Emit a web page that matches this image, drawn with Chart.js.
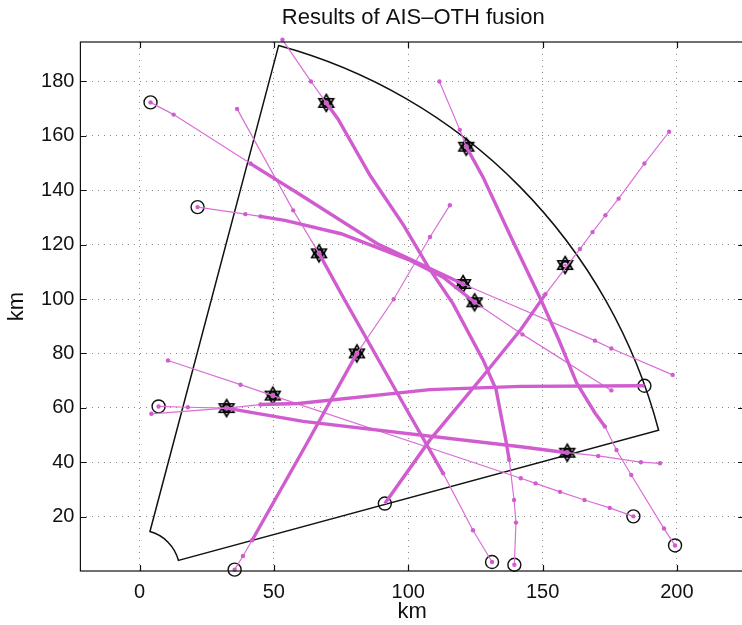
<!DOCTYPE html>
<html>
<head>
<meta charset="utf-8">
<title>Results of AIS–OTH fusion</title>
<script src="https://cdn.jsdelivr.net/npm/chart.js@4.4.1/dist/chart.umd.min.js"></script>
<style>
  html, body { margin: 0; padding: 0; background: #fff; overflow: hidden; }
  canvas { display: block; }
</style>
</head>
<body>
<canvas id="fusionChart" width="752" height="625"></canvas>
<script>
// Axis ticks (km)
const xTickValues = [0, 50, 100, 150, 200];
const yTickValues = [20, 40, 60, 80, 100, 120, 140, 160, 180];

// OTH radar coverage: range (km) and bearing (deg from east)
const sectorRange = [15, 200];
const sectorBearing = [15, 75];

// Tracks: thin = AIS reports, thick = fused OTH segment  [x km, y km]
const aisA1 = [[53.2, 195.3], [63.8, 180.0], [69.5, 172.1]];
const othA  = [[69.5, 172.1], [73.8, 166.3], [85.9, 145.3], [98.3, 127.1], [107.5, 111.7], [116.7, 98.2], [127.8, 77.7], [132.7, 66.7], [136.3, 48.2], [137.6, 40.8]];
const aisA2 = [[137.6, 40.8], [139.4, 26.1], [140.1, 17.8], [139.5, 2.3]];

const aisB1 = [[4.1, 172.3], [12.7, 167.8], [41.3, 149.8]];
const othB  = [[41.3, 149.8], [59.1, 138.8], [88.5, 120.3], [120.4, 105.5]];
const aisB2 = [[120.4, 105.5], [169.5, 84.7], [175.6, 81.8], [198.4, 72.1]];

const aisC1 = [[21.6, 133.8], [39.4, 131.2], [45.0, 130.4]];
const othC  = [[45.0, 130.4], [54.1, 128.9], [75.0, 124.0], [100.8, 114.2], [113.0, 108.0], [124.7, 98.8]];
const aisC2 = [[124.7, 98.8], [142.5, 87.0], [175.6, 66.4]];

const aisD1 = [[36.3, 169.9], [57.2, 132.6], [66.8, 116.8]];
const othD  = [[66.8, 116.8], [76.2, 99.9], [99.5, 59.2], [113.0, 35.9]];
const aisD2 = [[113.0, 35.9], [124.1, 15.0], [131.2, 3.3]];

const aisE1 = [[35.4, 0.5], [38.5, 5.5], [41.9, 11.3]];
const othE  = [[41.9, 11.3], [60.9, 44.5], [80.9, 80.0]];
const aisE2 = [[80.9, 80.0], [94.6, 99.9], [108.1, 122.8], [115.5, 134.5]];

const othF  = [[91.3, 24.8], [108.1, 48.2], [127.8, 71.6], [141.9, 88.8], [151.1, 101.8]];
const aisF  = [[151.1, 101.8], [163.9, 118.4], [168.6, 124.6], [173.4, 130.8], [178.3, 136.9], [187.9, 149.8], [197.1, 161.5]];

const aisG1 = [[111.6, 180.0], [119.2, 162.2], [121.6, 156.0]];
const othG  = [[121.6, 156.0], [127.8, 144.9], [138.8, 121.6], [149.3, 99.9], [156.0, 85.1], [162.7, 69.1], [169.5, 58.1], [173.2, 53.1]];
const aisG2 = [[173.2, 53.1], [177.5, 44.5], [183.0, 35.3], [195.2, 15.6], [199.3, 9.4]];

const aisH1 = [[7.1, 60.5], [18.0, 60.2], [32.4, 59.9], [45.0, 61.2]];
const othH  = [[45.0, 61.2], [59.1, 61.6], [108.1, 66.7], [141.9, 67.9], [187.9, 68.1]];

const aisI1 = [[4.4, 57.8], [32.4, 59.9]];
const othI  = [[32.4, 59.9], [60.9, 55.0], [141.9, 45.7], [159.2, 43.5]];
const aisI2 = [[159.2, 43.5], [170.7, 42.3], [186.6, 40.0], [193.7, 39.6]];

const aisJ  = [[10.6, 77.4], [37.6, 68.5], [49.6, 64.5], [141.9, 34.1], [147.4, 32.2], [156.5, 29.1], [165.6, 26.1], [175.0, 23.2], [183.8, 20.1]];

// Markers
const circleMarks = [[4.1, 172.3], [21.6, 133.8], [7.1, 60.5], [35.4, 0.5], [91.3, 24.8], [131.2, 3.3], [139.5, 2.3], [183.8, 20.1], [199.3, 9.4], [187.9, 68.1]];
const hexagramMarks = [[69.5, 172.1], [121.6, 156.0], [66.8, 116.8], [120.4, 105.5], [124.7, 98.8], [158.4, 112.5], [80.9, 80.0], [49.6, 64.5], [32.4, 59.9], [159.2, 43.5]];

const aisSegments = [aisA1, aisA2, aisB1, aisB2, aisC1, aisC2, aisD1, aisD2, aisE1, aisE2, aisF, aisG1, aisG2, aisH1, aisI1, aisI2, aisJ];
const othSegments = [othA, othB, othC, othD, othE, othF, othG, othH, othI];

const MAGENTA = 'rgb(218, 112, 214)';
const MAGENTA_DARK = 'rgb(208, 92, 208)';
const FONT = '"Liberation Sans", Arial, Helvetica, sans-serif';

const toXY = pts => pts.map(p => ({ x: p[0], y: p[1] }));

// Star of David marker with a small ring in the middle
function makeHexagram() {
  const c = document.createElement('canvas');
  c.width = 22; c.height = 22;
  const g = c.getContext('2d');
  const r = 8.5;
  g.strokeStyle = '#000';
  g.lineWidth = 1.6;
  [-90, 90].forEach(start => {
    g.beginPath();
    for (let k = 0; k < 3; k++) {
      const a = (start + k * 120) * Math.PI / 180;
      const px = 11 + r * Math.cos(a), py = 11 + r * Math.sin(a);
      if (k === 0) g.moveTo(px, py); else g.lineTo(px, py);
    }
    g.closePath();
    g.stroke();
  });
  g.beginPath();
  g.arc(11, 11, 3.2, 0, Math.PI * 2);
  g.stroke();
  g.beginPath();
  g.fillStyle = MAGENTA_DARK;
  g.arc(11, 11, 1.6, 0, Math.PI * 2);
  g.fill();
  return c;
}

const datasets = [];
othSegments.forEach(seg => datasets.push({
  data: toXY(seg),
  showLine: true,
  borderColor: MAGENTA_DARK,
  borderWidth: 3.4,
  pointRadius: 0,
  clip: false
}));
aisSegments.forEach(seg => datasets.push({
  data: toXY(seg),
  showLine: true,
  borderColor: MAGENTA,
  borderWidth: 1.2,
  pointRadius: 2.2,
  pointBorderWidth: 0,
  pointBackgroundColor: MAGENTA_DARK,
  clip: false
}));
datasets.push({
  data: toXY(circleMarks),
  showLine: false,
  pointStyle: 'circle',
  pointRadius: 6.5,
  pointBorderColor: '#111',
  pointBorderWidth: 1.4,
  pointBackgroundColor: 'rgba(0,0,0,0)',
  clip: false
});
datasets.push({
  data: toXY(hexagramMarks),
  showLine: false,
  pointStyle: makeHexagram(),
  clip: false
});

// Coverage sector outline, drawn through the axes' scales
const coveragePlugin = {
  id: 'coverage',
  beforeDatasetsDraw(chart) {
    const { ctx, scales: { x, y } } = chart;
    const cx = x.getPixelForValue(0), cy = y.getPixelForValue(0);
    const kx = x.getPixelForValue(1) - cx, ky = cy - y.getPixelForValue(1);
    const a0 = -sectorBearing[1] * Math.PI / 180;
    const a1 = -sectorBearing[0] * Math.PI / 180;
    ctx.save();
    ctx.beginPath();
    ctx.ellipse(cx, cy, sectorRange[1] * kx, sectorRange[1] * ky, 0, a0, a1, false);
    ctx.ellipse(cx, cy, sectorRange[0] * kx, sectorRange[0] * ky, 0, a1, a0, true);
    ctx.closePath();
    ctx.lineWidth = 1.5;
    ctx.strokeStyle = '#111';
    ctx.stroke();
    ctx.restore();
  }
};

// Axes box with inward ticks, plus the title
const framePlugin = {
  id: 'frame',
  afterDraw(chart) {
    const { ctx, chartArea: a, scales: { x, y } } = chart;
    ctx.save();
    ctx.strokeStyle = '#111';
    ctx.lineWidth = 1.2;
    ctx.strokeRect(a.left, a.top, a.right - a.left, a.bottom - a.top);
    ctx.beginPath();
    xTickValues.forEach(v => {
      const px = Math.round(x.getPixelForValue(v)) + 0.5;
      ctx.moveTo(px, a.bottom); ctx.lineTo(px, a.bottom - 6);
      ctx.moveTo(px, a.top); ctx.lineTo(px, a.top + 6);
    });
    yTickValues.forEach(v => {
      const py = Math.round(y.getPixelForValue(v)) + 0.5;
      ctx.moveTo(a.left, py); ctx.lineTo(a.left + 6, py);
      ctx.moveTo(a.right, py); ctx.lineTo(a.right - 6, py);
    });
    ctx.stroke();
    ctx.fillStyle = '#111';
    ctx.font = '22px ' + FONT;
    ctx.textAlign = 'center';
    ctx.textBaseline = 'middle';
    ctx.fillText('Results of AIS–OTH fusion', (a.left + a.right) / 2 + 1, 18);
    ctx.restore();
  }
};

new Chart(document.getElementById('fusionChart'), {
  type: 'scatter',
  data: { datasets },
  options: {
    responsive: false,
    animation: false,
    layout: { padding: { top: 42, right: 0.7, left: 0, bottom: 0 } },
    plugins: { legend: { display: false }, tooltip: { enabled: false } },
    scales: {
      x: {
        type: 'linear',
        min: -22,
        max: 225,
        afterBuildTicks: scale => { scale.ticks = xTickValues.map(v => ({ value: v })); },
        afterFit: scale => { scale.height = 54; },
        grid: { color: '#8a8a8a', lineWidth: 1, drawTicks: false },
        border: { display: false, dash: [1, 5] },
        ticks: { color: '#111', font: { family: FONT, size: 20 }, padding: 9 },
        title: { display: true, text: 'km', color: '#111', font: { family: FONT, size: 22 }, padding: { top: 0, bottom: 0 } }
      },
      y: {
        type: 'linear',
        min: 0,
        max: 194.5,
        afterBuildTicks: scale => { scale.ticks = yTickValues.map(v => ({ value: v })); },
        afterFit: scale => { scale.width = 80.4; },
        grid: { color: '#8a8a8a', lineWidth: 1, drawTicks: false },
        border: { display: false, dash: [1, 5] },
        ticks: { color: '#111', font: { family: FONT, size: 20 }, padding: 6 },
        title: { display: true, text: 'km', color: '#111', font: { family: FONT, size: 22 }, padding: { top: 4, bottom: 0 } }
      }
    }
  },
  plugins: [coveragePlugin, framePlugin]
});
</script>
</body>
</html>
